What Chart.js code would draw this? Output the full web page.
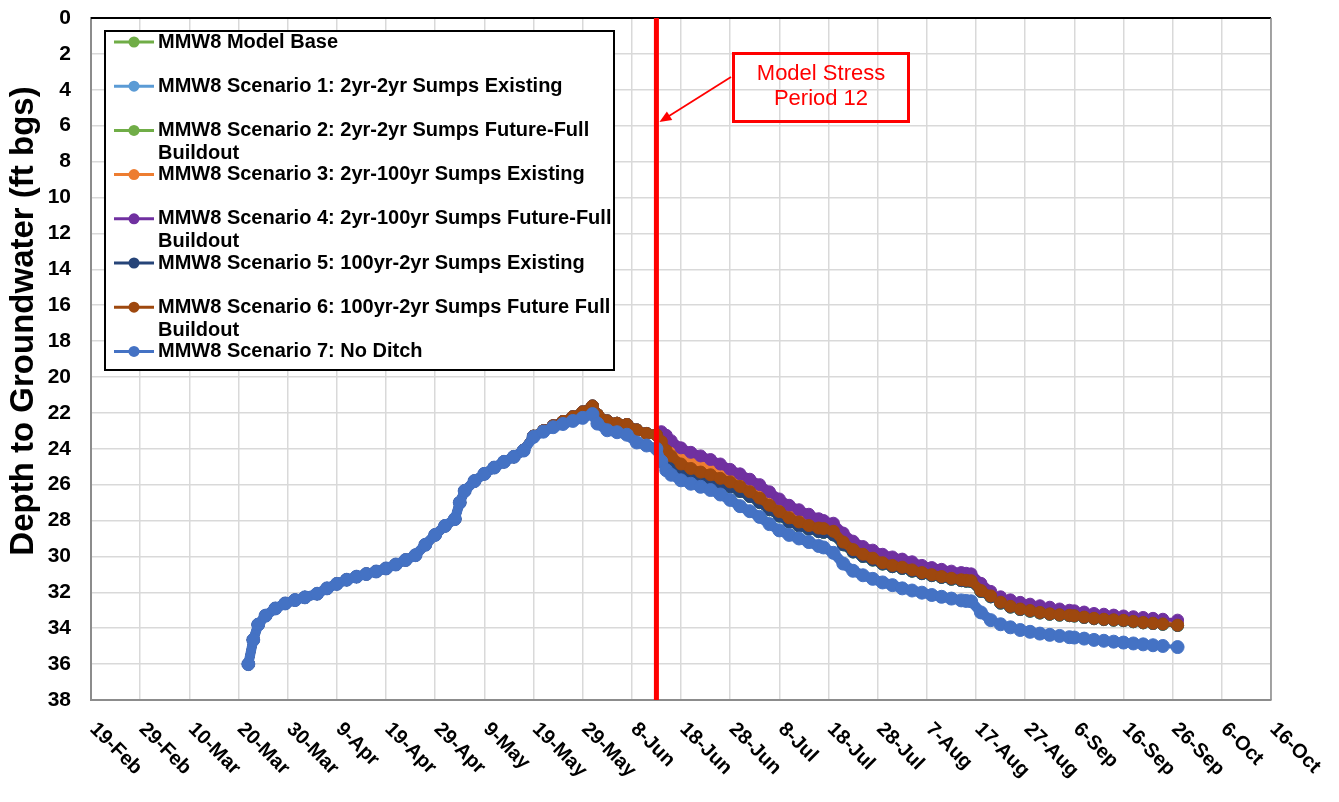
<!DOCTYPE html>
<html>
<head>
<meta charset="utf-8">
<title>MMW8 Depth to Groundwater</title>
<script src="https://cdn.jsdelivr.net/npm/chart.js@4.4.1/dist/chart.umd.min.js"></script>
<style>
  body { margin: 0; background: #fff; }
  #wrap { width: 1339px; height: 802px; position: relative; }
</style>
</head>
<body>
<div id="wrap"><canvas id="depthChart"></canvas></div>
<script>
// x values are days counted from 19-Feb-2020
const startDate = Date.UTC(2020, 1, 19);
const monthNames = ['Jan', 'Feb', 'Mar', 'Apr', 'May', 'Jun', 'Jul', 'Aug', 'Sep', 'Oct', 'Nov', 'Dec'];
const stressDay = 115; // 13-Jun, model stress period 12

const xRange = [0, 240, 10];
const yRange = [0, 38, 2];

// before the stress period all model runs share one record, the no-ditch run sits a little deeper near the peak
const daysBefore = [32, 33, 34, 35.5, 37.5, 39.5, 41.5, 43.5, 46, 48, 50, 52, 54, 56, 58, 60, 62, 64, 66, 68,
  70, 72, 74, 75, 76, 78, 80, 82, 84, 86, 88, 90, 92, 94, 96, 98, 100, 102, 103, 105, 107, 109, 111, 113, 115];
const beforeModel = [36.0, 34.65, 33.8, 33.3, 32.9, 32.62, 32.43, 32.28, 32.08, 31.78, 31.53, 31.3, 31.13, 30.98, 30.84,
  30.67, 30.45, 30.2, 29.93, 29.35, 28.8, 28.3, 27.92, 27.0, 26.35, 25.8, 25.4, 25.05, 24.73, 24.45,
  24.08, 23.3, 23.0, 22.72, 22.48, 22.22, 21.95, 21.62, 22.1, 22.45, 22.58, 22.65, 22.95, 23.15, 23.22];
const beforeNoDitch = [36.0, 34.65, 33.8, 33.3, 32.9, 32.62, 32.43, 32.28, 32.08, 31.78, 31.53, 31.3, 31.13, 30.98, 30.84,
  30.67, 30.45, 30.2, 29.93, 29.35, 28.8, 28.3, 27.92, 27.0, 26.35, 25.8, 25.4, 25.05, 24.73, 24.45,
  24.1, 23.34, 23.05, 22.8, 22.62, 22.45, 22.28, 22.07, 22.6, 22.97, 23.08, 23.22, 23.65, 23.82, 24.0];

const daysAfter = [116, 117, 118, 120, 122, 124, 126, 128, 130, 132, 134, 136, 138, 140, 142, 144, 146, 148, 149, 151,
  153, 155, 157, 159, 161, 163, 165, 167, 169, 171, 173, 175, 177, 178, 179, 181, 183, 185, 187, 189,
  191, 193, 195, 197, 199, 200, 202, 204, 206, 208, 210, 212, 214, 216, 218, 221];
const afterBase = [23.9, 24.5, 24.8, 25.15, 25.38, 25.55, 25.72, 25.92, 26.12, 26.38, 26.66, 27.0, 27.4, 27.75, 28.08,
  28.3, 28.48, 28.62, 28.66, 28.8, 29.35, 29.75, 30.0, 30.2, 30.42, 30.57, 30.67, 30.82, 30.96, 31.07,
  31.17, 31.27, 31.35, 31.38, 31.4, 31.95, 32.25, 32.6, 32.82, 32.96, 33.05, 33.15, 33.22, 33.27, 33.3,
  33.32, 33.4, 33.47, 33.52, 33.55, 33.58, 33.64, 33.7, 33.74, 33.78, 33.85];
const afterScenario3 = [23.4, 23.85, 24.15, 24.55, 24.8, 25.0, 25.2, 25.4, 25.62, 25.9, 26.2, 26.55, 26.98, 27.38, 27.75,
  27.98, 28.2, 28.35, 28.4, 28.55, 29.12, 29.55, 29.82, 30.05, 30.3, 30.45, 30.55, 30.7, 30.85, 30.97,
  31.07, 31.17, 31.25, 31.28, 31.3, 31.85, 32.15, 32.5, 32.72, 32.87, 32.96, 33.06, 33.14, 33.19, 33.22,
  33.24, 33.32, 33.39, 33.44, 33.47, 33.5, 33.56, 33.62, 33.66, 33.7, 33.77];
const afterScenario4 = [23.05, 23.25, 23.55, 23.95, 24.2, 24.4, 24.6, 24.85, 25.15, 25.4, 25.7, 26.0, 26.4, 26.8, 27.15,
  27.4, 27.65, 27.9, 28.0, 28.15, 28.7, 29.15, 29.45, 29.65, 29.88, 30.03, 30.15, 30.3, 30.5, 30.62,
  30.72, 30.82, 30.9, 30.94, 30.97, 31.5, 31.95, 32.25, 32.42, 32.56, 32.66, 32.75, 32.83, 32.93, 33.0,
  33.03, 33.1, 33.18, 33.22, 33.27, 33.32, 33.36, 33.4, 33.45, 33.5, 33.55];
const afterScenario6 = [23.6, 24.1, 24.4, 24.85, 25.1, 25.3, 25.45, 25.65, 25.85, 26.1, 26.4, 26.75, 27.15, 27.5, 27.85,
  28.08, 28.28, 28.42, 28.45, 28.6, 29.2, 29.62, 29.88, 30.1, 30.35, 30.5, 30.6, 30.75, 30.9, 31.02,
  31.12, 31.22, 31.3, 31.33, 31.35, 31.9, 32.2, 32.55, 32.78, 32.93, 33.02, 33.12, 33.2, 33.25, 33.28,
  33.3, 33.38, 33.45, 33.5, 33.53, 33.56, 33.62, 33.68, 33.72, 33.76, 33.83];
const afterScenario7 = [24.7, 25.2, 25.45, 25.76, 25.95, 26.12, 26.3, 26.55, 26.85, 27.2, 27.48, 27.8, 28.2, 28.55, 28.8,
  29.0, 29.2, 29.42, 29.5, 29.8, 30.4, 30.8, 31.05, 31.25, 31.45, 31.6, 31.78, 31.9, 32.02, 32.15,
  32.25, 32.35, 32.45, 32.48, 32.5, 33.12, 33.55, 33.78, 33.95, 34.1, 34.2, 34.3, 34.37, 34.43, 34.5,
  34.52, 34.58, 34.65, 34.7, 34.75, 34.8, 34.85, 34.9, 34.95, 34.99, 35.05];

const seriesNames = [
  'MMW8 Model Base',
  'MMW8 Scenario 1: 2yr-2yr Sumps Existing',
  'MMW8 Scenario 2: 2yr-2yr Sumps Future-Full Buildout',
  'MMW8 Scenario 3: 2yr-100yr Sumps Existing',
  'MMW8 Scenario 4: 2yr-100yr Sumps Future-Full Buildout',
  'MMW8 Scenario 5: 100yr-2yr Sumps Existing',
  'MMW8 Scenario 6: 100yr-2yr Sumps Future Full Buildout',
  'MMW8 Scenario 7: No Ditch'
];
const seriesColors = ['#70AD47', '#5B9BD5', '#70AD47', '#ED7D31', '#7030A0', '#264478', '#9E480E', '#4472C4'];
const seriesBefore = [beforeModel, beforeModel, beforeModel, beforeModel, beforeModel, beforeModel, beforeModel, beforeNoDitch];
const seriesAfter = [afterBase, afterBase, afterBase, afterScenario3, afterScenario4, afterBase, afterScenario6, afterScenario7];

const FONT = '"Liberation Sans", Arial, sans-serif';

function dayLabel(v) {
  const d = new Date(startDate + v * 86400000);
  return d.getUTCDate() + '-' + monthNames[d.getUTCMonth()];
}

function toPoints(i) {
  const pts = [];
  daysBefore.forEach((d, k) => pts.push({ x: d, y: seriesBefore[i][k] }));
  daysAfter.forEach((d, k) => pts.push({ x: d, y: seriesAfter[i][k] }));
  return pts;
}

const datasets = seriesNames.map((name, i) => {
  const w = i === 7 ? 10 : 9;
  return {
    label: name,
    data: toPoints(i),
    borderColor: seriesColors[i],
    backgroundColor: seriesColors[i],
    pointBackgroundColor: seriesColors[i],
    pointBorderColor: seriesColors[i],
    borderWidth: w,
    borderJoinStyle: 'round',
    borderCapStyle: 'round',
    // the sparse late-season readings show as separate beads on a thin line
    segment: { borderWidth: c => (c.p0.parsed.x >= 183 ? 4 : w) },
    pointRadius: i === 7 ? 6.5 : 6,
    pointBorderWidth: 1,
    // later series sit on top, as in the workbook
    order: seriesNames.length - i
  };
});

function wrapText(ctx, text, maxWidth) {
  const words = text.split(' ');
  const lines = [];
  let line = '';
  words.forEach(w => {
    const test = line ? line + ' ' + w : w;
    if (line && ctx.measureText(test).width > maxWidth) {
      lines.push(line);
      line = w;
    } else {
      line = test;
    }
  });
  lines.push(line);
  return lines;
}

const decor = {
  id: 'decor',
  afterDraw(chart) {
    const ctx = chart.ctx;
    const area = chart.chartArea;
    const xs = chart.scales.x;
    const ys = chart.scales.y;

    // frame: dark top edge, grey right edge
    ctx.save();
    ctx.strokeStyle = '#000';
    ctx.lineWidth = 2;
    ctx.beginPath();
    ctx.moveTo(area.left, area.top);
    ctx.lineTo(area.right, area.top);
    ctx.stroke();
    ctx.strokeStyle = '#8c8c8c';
    ctx.lineWidth = 1.5;
    ctx.beginPath();
    ctx.moveTo(area.right, area.top);
    ctx.lineTo(area.right, area.bottom);
    ctx.stroke();

    // stress period marker
    const sx = xs.getPixelForValue(stressDay);
    ctx.strokeStyle = '#FF0000';
    ctx.lineWidth = 5;
    ctx.beginPath();
    ctx.moveTo(sx, area.top);
    ctx.lineTo(sx, area.bottom);
    ctx.stroke();

    // callout box and arrow
    ctx.lineWidth = 3;
    ctx.strokeRect(733.5, 53.5, 175, 68);
    ctx.fillStyle = '#FF0000';
    ctx.font = '22px ' + FONT;
    ctx.textAlign = 'center';
    ctx.textBaseline = 'middle';
    ctx.fillText('Model Stress', 821, 74);
    ctx.fillText('Period 12', 821, 99);

    const tipX = sx + 3, tipY = ys.getPixelForValue(5.8);
    const fromX = 731, fromY = 77;
    const ang = Math.atan2(tipY - fromY, tipX - fromX);
    ctx.lineWidth = 1.8;
    ctx.beginPath();
    ctx.moveTo(fromX, fromY);
    ctx.lineTo(tipX - 9 * Math.cos(ang), tipY - 9 * Math.sin(ang));
    ctx.stroke();
    ctx.beginPath();
    ctx.moveTo(tipX, tipY);
    ctx.lineTo(tipX - 12 * Math.cos(ang) + 5 * Math.sin(ang), tipY - 12 * Math.sin(ang) - 5 * Math.cos(ang));
    ctx.lineTo(tipX - 12 * Math.cos(ang) - 5 * Math.sin(ang), tipY - 12 * Math.sin(ang) + 5 * Math.cos(ang));
    ctx.closePath();
    ctx.fill();

    // slanted date labels
    ctx.fillStyle = '#000';
    ctx.font = 'bold 20px ' + FONT;
    ctx.textAlign = 'left';
    ctx.textBaseline = 'middle';
    xs.ticks.forEach(t => {
      const px = xs.getPixelForValue(t.value);
      ctx.save();
      ctx.translate(px + 2, area.bottom + 26);
      ctx.rotate(Math.PI / 4);
      ctx.fillText(dayLabel(t.value), 0, 0);
      ctx.restore();
    });

    // axis title
    ctx.save();
    ctx.translate(24, 321);
    ctx.rotate(-Math.PI / 2);
    ctx.font = 'bold 33px ' + FONT;
    ctx.textAlign = 'center';
    ctx.fillText('Depth to Groundwater (ft bgs)', 0, 0);
    ctx.restore();

    // legend
    const box = { left: 105, top: 31, right: 614, bottom: 370 };
    ctx.fillStyle = '#fff';
    ctx.fillRect(box.left, box.top, box.right - box.left, box.bottom - box.top);
    ctx.strokeStyle = '#000';
    ctx.lineWidth = 2;
    ctx.strokeRect(box.left, box.top, box.right - box.left, box.bottom - box.top);
    ctx.font = 'bold 20px ' + FONT;
    ctx.textAlign = 'left';
    ctx.textBaseline = 'middle';
    seriesNames.forEach((name, i) => {
      const y = 42 + i * 44.2;
      ctx.strokeStyle = seriesColors[i];
      ctx.fillStyle = seriesColors[i];
      ctx.lineWidth = 3;
      ctx.beginPath();
      ctx.moveTo(114, y);
      ctx.lineTo(154, y);
      ctx.stroke();
      ctx.beginPath();
      ctx.arc(134, y, 5.5, 0, Math.PI * 2);
      ctx.fill();
      ctx.fillStyle = '#000';
      wrapText(ctx, name, 470).forEach((ln, k) => ctx.fillText(ln, 158, y + k * 23));
    });
    ctx.restore();
  }
};

new Chart(document.getElementById('depthChart'), {
  type: 'line',
  data: { datasets },
  options: {
    responsive: true,
    maintainAspectRatio: false,
    animation: false,
    layout: { padding: { left: 0, top: 18, right: 68, bottom: 0 } },
    plugins: { legend: { display: false }, tooltip: { enabled: false } },
    scales: {
      x: {
        type: 'linear',
        min: xRange[0],
        max: xRange[1],
        ticks: { stepSize: xRange[2], display: false },
        grid: { color: '#d9d9d9', lineWidth: 1.5, drawTicks: false },
        border: { color: '#8c8c8c', width: 2 },
        afterFit(scale) { scale.height = 102; }
      },
      y: {
        reverse: true,
        min: yRange[0],
        max: yRange[1],
        ticks: {
          stepSize: yRange[2],
          padding: 20,
          color: '#000',
          font: { family: FONT, size: 21, weight: 'bold' }
        },
        grid: { color: '#d9d9d9', lineWidth: 1.5, drawTicks: false },
        border: { color: '#8c8c8c', width: 2 },
        afterFit(scale) {
          scale.width = 91;
          scale.paddingTop = 0;
          scale.paddingBottom = 0;
        }
      }
    }
  },
  plugins: [decor]
});
</script>
</body>
</html>
